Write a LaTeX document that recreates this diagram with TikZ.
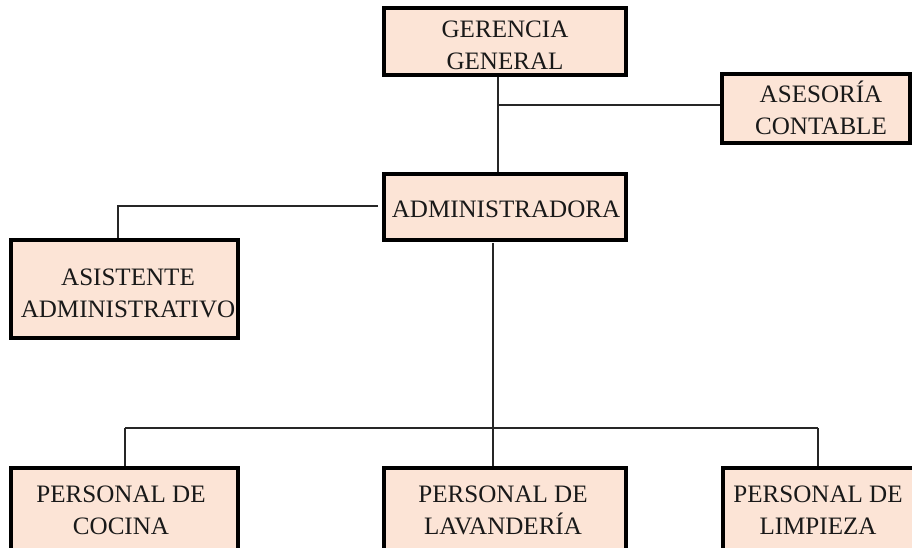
\documentclass[tikz,border=0pt]{standalone}
\usepackage{fontspec}
\setmainfont{Liberation Serif}
\usetikzlibrary{fit}
\definecolor{peach}{RGB}{252,228,214}
\tikzset{
  orgbox/.style={draw=black, line width=2.3pt, fill=peach, inner sep=0pt},
  orgtext/.style={inner sep=0pt, anchor=north, align=center,
    font=\fontsize{18.8}{24}\selectfont, text=black!90},
  link/.style={draw=black!85, line width=0.8pt}
}
\begin{document}
\begin{tikzpicture}[x=0.75pt,y=-0.75pt]
\useasboundingbox (0,0) rectangle (912,548);
% boxes
\node[orgbox, fit={(384,8) (626,75)}] (gg) {};
\node[orgbox, fit={(722,74) (910,143)}] (ac) {};
\node[orgbox, fit={(384,174) (626,240)}] (ad) {};
\node[orgbox, fit={(11,240) (238,338)}] (as) {};
\node[orgbox, fit={(11,468) (238,556)}] (pc) {};
\node[orgbox, fit={(384,468) (626,556)}] (pl) {};
\node[orgbox, fit={(723,468) (916,556)}] (pz) {};
% texts (north anchor = first baseline)
\node[orgtext] (ggt) at (505,37) {\smash{GERENCIA}\\GENERAL};
\node[orgtext] (act) at (821,102) {\smash{ASESORÍA}\\CONTABLE};
\node[orgtext] (adt) at (506,217) {\smash{ADMINISTRADORA}};
\node[orgtext] (ast) at (128,285) {\smash{ASISTENTE}\\ADMINISTRATIVO};
\node[orgtext] (pct) at (121,502) {\smash{PERSONAL DE}\\COCINA};
\node[orgtext] (plt) at (503,502) {\smash{PERSONAL DE}\\LAVANDERÍA};
\node[orgtext] (pzt) at (818,502) {\smash{PERSONAL DE}\\LIMPIEZA};
% connectors
\coordinate (j1) at (498,105);
\coordinate (j2) at (378,206);
\coordinate (k2) at (118,206);
\coordinate (j3) at (493,243);
\coordinate (m3) at (493,428);
\coordinate (hl) at (125,428);
\coordinate (hr) at (818,428);
\draw[link] (gg.south -| j1) -- (ad.north -| j1);
\draw[link] (j1) -- (j1 -| ac.west);
\draw[link] (j2) -- (k2) -- (k2 |- as.north);
\draw[link] (j3) -- (m3);
\draw[link] (hl) -- (hr);
\draw[link] (hl) -- (hl |- pc.north);
\draw[link] (m3) -- (m3 |- pl.north);
\draw[link] (hr) -- (hr |- pz.north);
\end{tikzpicture}
\end{document}
